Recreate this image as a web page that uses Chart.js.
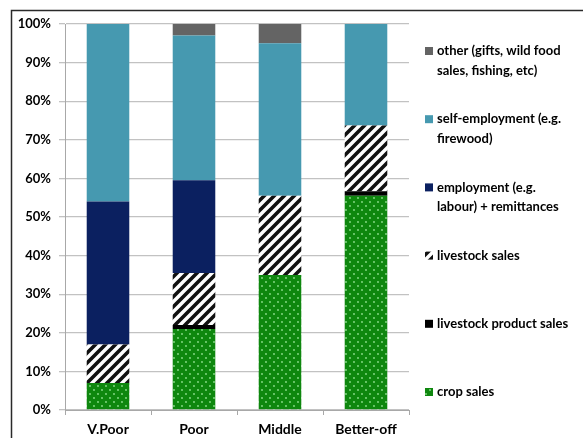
<!DOCTYPE html>
<html>
<head>
<meta charset="utf-8">
<script src="https://cdn.jsdelivr.net/npm/chart.js@4.4.1/dist/chart.umd.min.js"></script>
<style>
  html, body { margin: 0; padding: 0; background: #ffffff; }
  #wrap { width: 583px; height: 438px; position: relative; }
</style>
</head>
<body>
<div id="wrap"><canvas id="c" width="583" height="438"></canvas></div>
<script>
// Income sources by wealth group (share of cash income, %)
const categories = ['V.Poor', 'Poor', 'Middle', 'Better-off'];
const cropSales = [7, 21, 35, 55.5];
const livestockProductSales = [0, 1, 0, 1.2];
const livestockSales = [10, 13.5, 20.5, 17];
const employment = [37, 24, 0, 0];
const selfEmployment = [46, 37.5, 39.5, 26.3];
const otherIncome = [0, 3, 5, 0];

const legendLabels = {
  other: ['other (gifts, wild food', 'sales, fishing, etc)'],
  selfEmployment: ['self-employment (e.g.', 'firewood)'],
  employment: ['employment (e.g.', 'labour) + remittances'],
  livestockSales: ['livestock sales'],
  livestockProductSales: ['livestock product sales'],
  cropSales: ['crop sales']
};

const FONT = 'Lato, "Open Sans", "DejaVu Sans", sans-serif';

// Diagonal black/white hatch fill
function hatchPattern() {
  const s = 10;
  const t = document.createElement('canvas');
  t.width = s; t.height = s;
  const g = t.getContext('2d');
  g.fillStyle = '#ffffff';
  g.fillRect(0, 0, s, s);
  g.strokeStyle = '#111111';
  g.lineWidth = 3.6;
  g.lineCap = 'square';
  [[-s, s, 0, 0], [0, s, s, 0], [s, s, 2 * s, 0]].forEach(function (l) {
    g.beginPath(); g.moveTo(l[0], l[1]); g.lineTo(l[2], l[3]); g.stroke();
  });
  return g.createPattern(t, 'repeat');
}

// Green fill with small light dots
function dotPattern() {
  const t = document.createElement('canvas');
  t.width = 8; t.height = 8;
  const g = t.getContext('2d');
  g.fillStyle = '#0e870e';
  g.fillRect(0, 0, 8, 8);
  g.fillStyle = '#8fe08f';
  [[2, 2], [6, 6]].forEach(function (p) {
    g.beginPath(); g.arc(p[0], p[1], 0.9, 0, Math.PI * 2); g.fill();
  });
  return g.createPattern(t, 'repeat');
}

const hatch = hatchPattern();
const dots = dotPattern();

const datasets = [
  { key: 'cropSales', data: cropSales, backgroundColor: dots },
  { key: 'livestockProductSales', data: livestockProductSales, backgroundColor: '#000000' },
  { key: 'livestockSales', data: livestockSales, backgroundColor: hatch },
  { key: 'employment', data: employment, backgroundColor: '#0b2060' },
  { key: 'selfEmployment', data: selfEmployment, backgroundColor: '#4699b0' },
  { key: 'other', data: otherIncome, backgroundColor: '#646464' }
].map(function (d) {
  return {
    label: legendLabels[d.key].join(' '),
    lines: legendLabels[d.key],
    data: d.data,
    backgroundColor: d.backgroundColor,
    borderWidth: 0,
    categoryPercentage: 1,
    barPercentage: 0.495
  };
});

// Frame around the figure and white background
const framePlugin = {
  id: 'frame',
  beforeDraw(chart) {
    const ctx = chart.ctx;
    ctx.save();
    ctx.fillStyle = '#ffffff';
    ctx.fillRect(0, 0, chart.width, chart.height);
    ctx.strokeStyle = '#2a2a2a';
    ctx.lineWidth = 1.5;
    ctx.strokeRect(11.5, 10.5, chart.width + 20, chart.height + 20);
    ctx.restore();
  }
};

// Legend on the right, top item = top of stack, multi-line labels
const sideLegend = {
  id: 'sideLegend',
  afterDraw(chart) {
    const ctx = chart.ctx;
    const ds = chart.data.datasets.slice().reverse();
    const x0 = chart.chartArea.right + 16;
    const y0 = 51;
    const step = 68.2;
    const lineH = 19.5;
    ctx.save();
    ctx.font = 'bold 13px ' + FONT;
    ctx.textBaseline = 'middle';
    ds.forEach(function (d, i) {
      const y = y0 + i * step;
      ctx.fillStyle = d.backgroundColor;
      ctx.fillRect(x0, y - 4, 8, 8);
      ctx.fillStyle = '#000000';
      d.lines.forEach(function (ln, j) {
        ctx.fillText(ln, x0 + 12, y + j * lineH);
      });
    });
    ctx.restore();
  }
};

new Chart(document.getElementById('c'), {
  type: 'bar',
  data: { labels: categories, datasets: datasets },
  plugins: [framePlugin, sideLegend],
  options: {
    responsive: false,
    animation: false,
    layout: { padding: { left: 0, top: 24, right: 174, bottom: 0 } },
    plugins: { legend: { display: false }, tooltip: { enabled: false } },
    scales: {
      x: {
        stacked: true,
        afterFit(scale) { scale.height = 28; },
        grid: { drawOnChartArea: false, drawTicks: true, tickLength: 5, color: '#a8a8a8', offset: true },
        border: { color: '#a8a8a8', width: 1 },
        ticks: { color: '#000000', padding: 6, font: { family: FONT, size: 14, weight: 'bold' } }
      },
      y: {
        stacked: true,
        min: 0,
        max: 100,
        afterFit(scale) { scale.width = 65; },
        grid: { color: '#c2c2c2', lineWidth: 1.3, tickLength: 6 },
        border: { color: '#a8a8a8', width: 1 },
        ticks: {
          stepSize: 10,
          color: '#000000',
          padding: 8,
          font: { family: FONT, size: 13, weight: 'bold' },
          callback: function (v) { return v + '%'; }
        }
      }
    }
  }
});
</script>
</body>
</html>
